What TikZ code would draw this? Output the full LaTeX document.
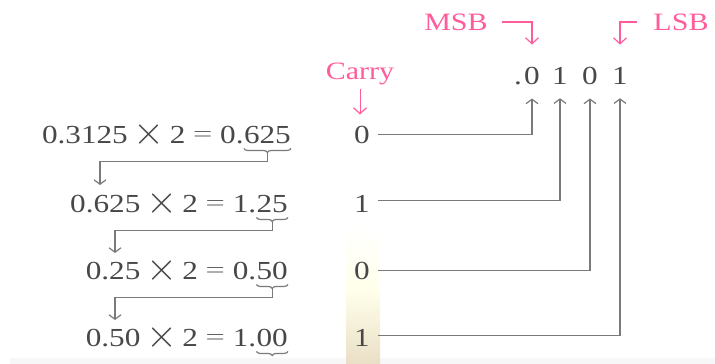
\documentclass[tikz,border=0pt]{standalone}
\usepackage{fontspec}
\usepackage{graphicx}
\setmainfont{Liberation Serif}[FakeStretch=1.2]
\usetikzlibrary{arrows.meta,decorations.pathreplacing,calc}
\definecolor{txt}{HTML}{484848}
\definecolor{ln}{HTML}{7A7A7A}
\definecolor{pk}{HTML}{FF5C9C}
\newcommand{\mx}{\hskip 6pt\raisebox{-1.5pt}{\scalebox{1.6}{$\times$}}\hskip 5pt}
\newcommand{\meq}{\hskip 8pt\raisebox{2.5pt}{\scalebox{1.05}[1]{$=$}}\hskip 8pt}
\begin{document}
\begin{tikzpicture}[x=1pt,y=-1pt,
  every node/.style={inner sep=2pt, text=txt, font=\fontsize{26}{30}\selectfont},
  pinktxt/.style={text=pk, font=\fontsize{25}{28}\selectfont},
  conn/.style={draw=ln, line width=1.3pt, -{Straight Barb[length=4.5pt,width=12pt,line width=1.2pt]}},
  pconn/.style={draw=pk, line width=1.3pt, -{Straight Barb[length=6pt,width=13pt,line width=1.2pt]}},
  brc/.style={draw=ln, line width=1.2pt, decorate, decoration={brace,mirror,amplitude=4pt}}]
\useasboundingbox (0,0) rectangle (715,364);
% background artefacts
\fill[black!3] (10,358) rectangle (715,364);
\shade[top color=white, bottom color=yellow!8] (346,225) rectangle (380,290);
\shade[top color=yellow!8, bottom color={rgb,255:red,233;green,223;blue,197}] (346,290) rectangle (380,364);

% header
\node[pinktxt] (msb) at (456,22) {MSB};
\node[pinktxt] (lsb) at (681,22) {LSB};
\node[pinktxt] (carry) at (360,74) {Carry};
\node[anchor=base] (r0) at (532,84) {0};
\node[anchor=base east, inner xsep=0pt] (dot) at (r0.base west) {.};
\node[anchor=base] (r1) at (560,84) {1};
\node[anchor=base] (r2) at (590,84) {0};
\node[anchor=base] (r3) at (620,84) {1};

\draw[pconn, shorten <=12pt, shorten >=20pt] (msb.east) -| (r0.north);
\draw[pconn, shorten <=14pt, shorten >=20pt] (lsb.west) -| (r3.north);

% rows
\node[anchor=base east, inner xsep=0pt] (f1) at (291,143) {625};
\node[anchor=base east, inner xsep=0pt] (e1) at (f1.base west) {0.3125\mx 2\meq 0.};
\node[anchor=base east, inner xsep=0pt] (f2) at (288,212) {25};
\node[anchor=base east, inner xsep=0pt] (e2) at (f2.base west) {0.625\mx 2\meq 1.};
\node[anchor=base east, inner xsep=0pt] (f3) at (288,279) {50};
\node[anchor=base east, inner xsep=0pt] (e3) at (f3.base west) {0.25\mx 2\meq 0.};
\node[anchor=base east, inner xsep=0pt] (f4) at (288,346) {00};
\node[anchor=base east, inner xsep=0pt] (e4) at (f4.base west) {0.50\mx 2\meq 1.};

% carries
\node[anchor=base] (c1) at (362,143) {0};
\node[anchor=base] (c2) at (362,212) {1};
\node[anchor=base] (c3) at (362,279) {0};
\node[anchor=base] (c4) at (362,346) {1};
\draw[pconn, line width=1pt, shorten <=2pt, shorten >=9pt] (carry.south) -- (carry.south |- c1.north);

% braces
\draw[brc] ([yshift=-3pt]f1.south west) -- ([yshift=-3pt]f1.south east) coordinate[midway,yshift=-5pt] (b1);
\draw[brc] ([yshift=-3pt]f2.south west) -- ([yshift=-3pt]f2.south east) coordinate[midway,yshift=-5pt] (b2);
\draw[brc] ([yshift=-3pt]f3.south west) -- ([yshift=-3pt]f3.south east) coordinate[midway,yshift=-5pt] (b3);
\draw[brc] ([yshift=-3pt]f4.south west) -- ([yshift=-3pt]f4.south east) coordinate[midway,yshift=-5pt] (b4);

% down arrows
\coordinate (t2) at (100,185);
\coordinate (t3) at (115,253);
\coordinate (t4) at (115,320);
\draw[conn] (b1) -- ++(0,8) -| (t2);
\draw[conn] (b2) -- ++(0,8) -| (t3);
\draw[conn] (b3) -- ++(0,8) -| (t4);

% carry to result
\draw[conn, shorten <=6pt, shorten >=12pt] (c1.east) -| (r0.south);
\draw[conn, shorten <=6pt, shorten >=12pt] ([yshift=3pt]c2.east) -| (r1.south);
\draw[conn, shorten <=6pt, shorten >=12pt] (c3.east) -| (r2.south);
\draw[conn, shorten <=6pt, shorten >=12pt] ([yshift=2pt]c4.east) -| (r3.south);
\end{tikzpicture}
\end{document}
